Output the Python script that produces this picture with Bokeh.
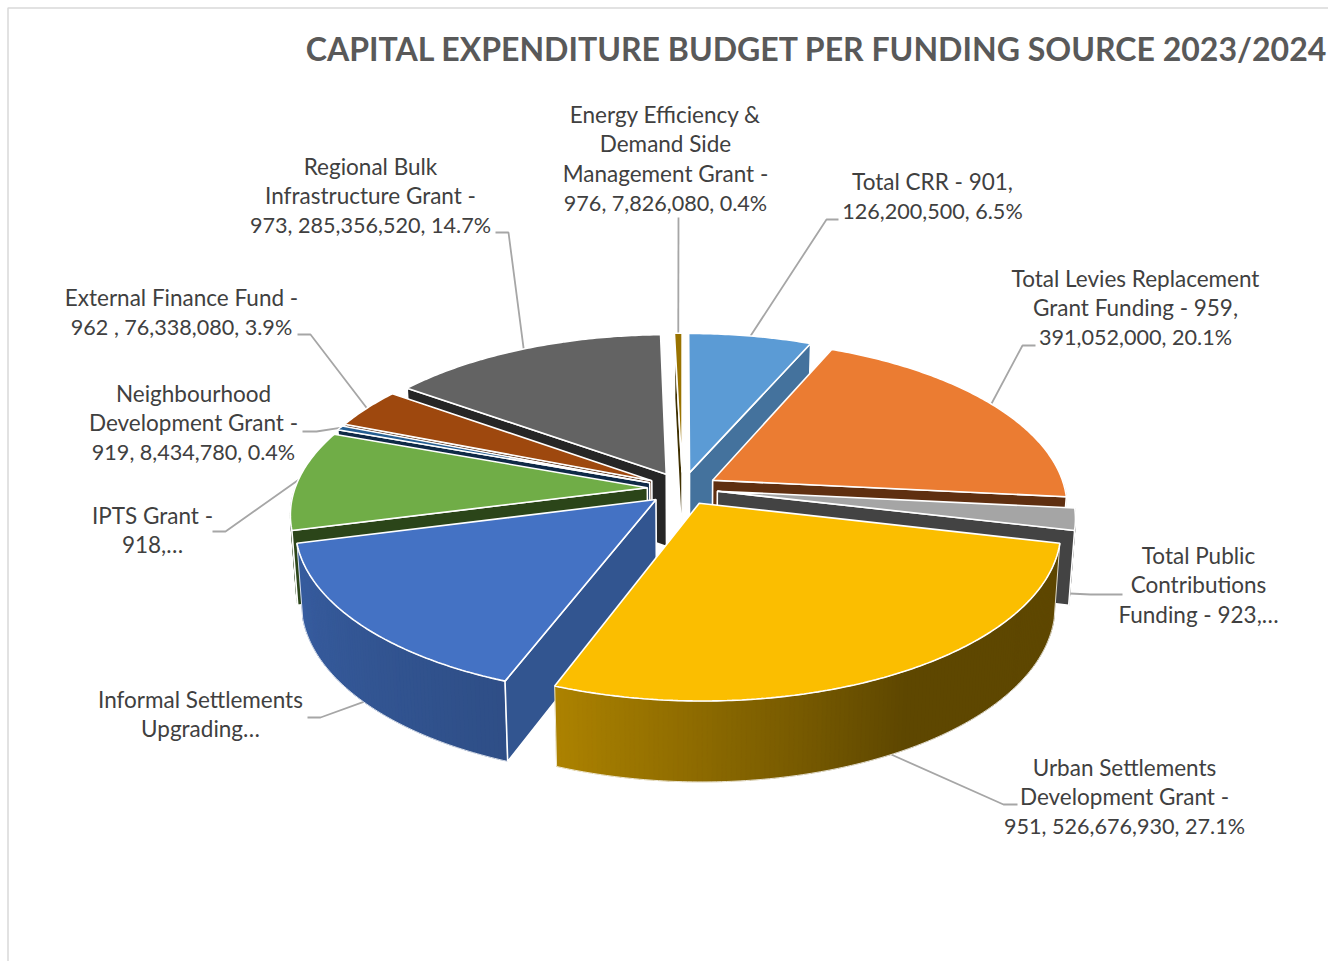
import numpy as np
from bokeh.plotting import figure
from bokeh.models import ColumnDataSource
from bokeh.core.properties import value
from bokeh.embed import file_html
from bokeh.resources import INLINE

title_text = "CAPITAL EXPENDITURE BUDGET PER FUNDING SOURCE 2023/2024"
names = ["Total CRR", "Total Levies", "Total Public", "USDG", "ISU", "IPTS", "NDG", "EFF", "RBIG", "EEDSM"]
amounts = [126200500, 391052000, 40800000, 526676930, 295000000, 187000000, 8434780, 76338080, 285356520, 7826080]
top_colors = ["#5B9BD5", "#EB7C32", "#A5A5A5", "#FBBE00", "#4472C4", "#70AD47", "#255E91", "#9E480E", "#636363", "#997300"]
side_colors = ["#44729D", "#5F2F10", "#434343", "#654C00", "#325590", "#2B4519", "#0F2A47", "#4A2106", "#262626", "#3F3000"]
paint_order = [9, 0, 1, 2, 8, 7, 6, 5, 4, 3]
label_lines = [
    ["Total CRR - 901,", "126,200,500, 6.5%"],
    ["Total Levies Replacement", "Grant Funding - 959,", "391,052,000, 20.1%"],
    ["Total Public", "Contributions", "Funding - 923,…"],
    ["Urban Settlements", "Development Grant -", "951, 526,676,930, 27.1%"],
    ["Informal Settlements", "Upgrading…"],
    ["IPTS Grant -", "918,…"],
    ["Neighbourhood", "Development Grant -", "919, 8,434,780, 0.4%"],
    ["External Finance Fund -", "962 , 76,338,080, 3.9%"],
    ["Regional Bulk", "Infrastructure Grant -", "973, 285,356,520, 14.7%"],
    ["Energy Efficiency &", "Demand Side", "Management Grant -", "976, 7,826,080, 0.4%"],
]
label_cx = [932, 1135, 1198, 1124, 200, 152, 193, 181, 370, 665]
label_cy = [181, 278, 555, 767, 699, 515, 393, 297, 166, 114]
LINE = 29.4
leader_a = [(838, 219), (1035, 345), (1122, 594), (1017, 804), (307, 717), (212, 531), (302, 431), (297, 334), (495, 232), (678, 217)]
leader_b = [(826, 219), (1022, 345), (1090, 594), (1003, 804), (320, 717), (225, 531), (316, 431), (310, 334), (508, 232), (678, 217)]
leader_bottom = [0, 0, 1, 1, 1, 0, 0, 0, 0, 0]

cx, cy, kR, py, q_, H, e = 682.0, 488.0, 164.0, 0.147, 0.015, 73.0, 0.10

def proj(X, Y, Z):
    sx = (352.4 + 52.5 * Y + 8.07 * Y * Y) * (1 - q_ * Z)
    return cx + X * sx, cy + kR * Y / (1.0 - py * Y) + H * Z * (1 + 0.1 * Y)

amounts_arr = np.array(amounts, float)
frac = amounts_arr / amounts_arr.sum()
edges = np.concatenate([[0], np.cumsum(frac)]) * 2 * np.pi

def hex2rgb(h):
    return np.array([int(h[i:i + 2], 16) for i in (1, 3, 5)], float)

def rgb2hex(c):
    c = np.clip(c, 0, 255).astype(int)
    return "#%02X%02X%02X" % tuple(c)

def light(theta):
    return np.interp(np.degrees(theta), [0, 150, 201, 255, 256.5, 360], [0.375, 0.375, 0.69, 0.82, 0.4, 0.4])

polys = dict(xs=[], ys=[], fill=[], alpha=[], line=[], lw=[])

def add(xs, ys, fill, alpha=1.0, line="white", lw=1.6):
    polys["xs"].append(list(map(float, xs)))
    polys["ys"].append(list(map(float, ys)))
    polys["fill"].append(fill)
    polys["alpha"].append(alpha)
    polys["line"].append(line)
    polys["lw"].append(lw)

anchors = {}
for i in paint_order:
    a0, a1 = edges[i], edges[i + 1]
    mid = (a0 + a1) / 2
    X0, Y0 = e * np.sin(mid), -e * np.cos(mid)
    d = np.degrees(a1 - a0)
    lo, hi = max(a0, np.pi / 2), min(a1, 3 * np.pi / 2)
    if hi > lo:
        th = np.linspace(lo, hi, max(3, int(np.degrees(hi - lo) * 1.5)))
        rx, ry = X0 + np.sin(th), Y0 - np.cos(th)
        base = hex2rgb(top_colors[i])
        for j in range(len(th) - 1):
            c = rgb2hex(base * light((th[j] + th[j + 1]) / 2))
            j2 = min(j + 2, len(th) - 1)
            P = [proj(rx[j], ry[j], 0), proj(rx[j2], ry[j2], 0), proj(rx[j2], ry[j2], 1), proj(rx[j], ry[j], 1)]
            add([q[0] for q in P], [q[1] for q in P], c, line=c, lw=0.3)
        tx, ty = proj(rx, ry, 0)
        bx, by = proj(rx, ry, 1)
        add(list(tx) + list(bx[::-1]), list(ty) + list(by[::-1]), "#FFFFFF", alpha=0.0, lw=0.8)
    for a, vis in ((a0, -np.sin(a0) > 1e-6), (a1, np.sin(a1) > 1e-6)):
        if vis:
            xa, ya = X0 + np.sin(a), Y0 - np.cos(a)
            P = [proj(X0, Y0, 0), proj(xa, ya, 0), proj(xa, ya, 1), proj(X0, Y0, 1)]
            add([q[0] for q in P], [q[1] for q in P], side_colors[i])
    tht = np.linspace(a0, a1, max(4, int(d * 1.5)))
    tx, ty = proj(X0 + np.sin(tht), Y0 - np.cos(tht), 0)
    ax, ay = proj(X0, Y0, 0)
    add([ax] + list(tx), [ay] + list(ty), top_colors[i])
    anchors[i] = proj(X0 + np.sin(mid), Y0 - np.cos(mid), leader_bottom[i])

p = figure(width=1328, height=961, x_range=(0, 1328), y_range=(961, 0), output_backend="svg",
           toolbar_location=None, min_border=0, outline_line_color=None)
p.axis.visible = False
p.grid.visible = False

p.line([7.5, 7.5, 1328], [961, 7.5, 7.5], line_color="#D9D9D9", line_width=1.5)

for i in range(len(names)):
    p.line([leader_a[i][0], leader_b[i][0], anchors[i][0]], [leader_a[i][1], leader_b[i][1], anchors[i][1]],
           line_color="#A6A6A6", line_width=1.8)

p.patches("xs", "ys", source=ColumnDataSource(polys), fill_color="fill", fill_alpha="alpha",
          line_color="line", line_width="lw")

tx, ty, tt, ts = [], [], [], []
for i, lines in enumerate(label_lines):
    for n, s in enumerate(lines):
        tx.append(label_cx[i]); ty.append(label_cy[i] + n * LINE); tt.append(s)
        ts.append("21.6px" if sum(ch.isdigit() for ch in s) >= 6 else "22.5px")
p.text("x", "y", text="t", source=ColumnDataSource(dict(x=tx, y=ty, t=tt, s=ts)), text_font=value("Lato"),
       text_font_size="s", text_color="#404040", text_align="center", text_baseline="middle")
p.text([816.5], [48], text=[title_text], text_font=value("Lato"), text_font_style="bold", text_font_size="32.05px",
       text_color="#595959", text_align="center", text_baseline="middle")

open("out.html", "w").write(file_html(p, INLINE))
